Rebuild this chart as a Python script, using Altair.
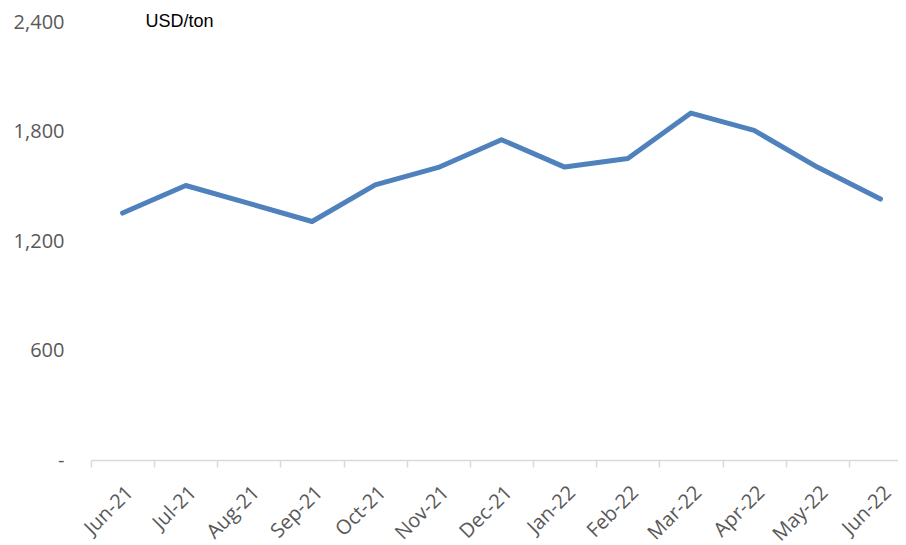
import altair as alt
import pandas as pd

months = ["Jun-21", "Jul-21", "Aug-21", "Sep-21", "Oct-21", "Nov-21", "Dec-21",
          "Jan-22", "Feb-22", "Mar-22", "Apr-22", "May-22", "Jun-22"]
prices = [1353, 1504, 1406, 1307, 1508, 1603, 1755, 1605, 1652, 1901, 1806, 1605, 1430]
y_ticks = [0, 600, 1200, 1800, 2400]

df = pd.DataFrame({"month": months, "price": prices})

chart = alt.Chart(df).mark_line(
    color="#4F81BD", strokeWidth=5, strokeCap="round", strokeJoin="round"
).encode(
    x=alt.X("month:O", sort=months,
            scale=alt.Scale(type="band", range=[0, 821], paddingInner=0, paddingOuter=0),
            axis=alt.Axis(title=None, labelAngle=-45, labelFont="Open Sans", labelFontSize=20,
                          labelColor="#595959", tickBand="extent", tickColor="#D9D9D9",
                          tickSize=7, tickWidth=1.5, domainColor="#D9D9D9", domainWidth=1.5,
                          labelPadding=15, labelOverlap=False, grid=False)),
    y=alt.Y("price:Q", scale=alt.Scale(domain=[0, 2400], nice=False),
            axis=alt.Axis(values=y_ticks, title="USD/ton", titleAngle=0, titleX=54, titleY=4,
                          titleAlign="left", titleBaseline="alphabetic",
                          titleFont="Liberation Sans", titleFontSize=18, titleFontWeight="normal",
                          titleColor="#000000",
                          labelExpr="datum.value == 0 ? '-' : format(datum.value, ',')",
                          labelFont="Open Sans", labelFontSize=20, labelColor="#595959",
                          labelPadding=27, ticks=False, domain=False, grid=False)),
).properties(
    width=807, height=438,
    autosize=alt.AutoSizeParams(type="none"),
    padding={"left": 83, "top": 14, "right": 0, "bottom": 85},
).configure_view(stroke=None)

chart.save("out.html", embed_options={"renderer": "svg", "actions": False})
